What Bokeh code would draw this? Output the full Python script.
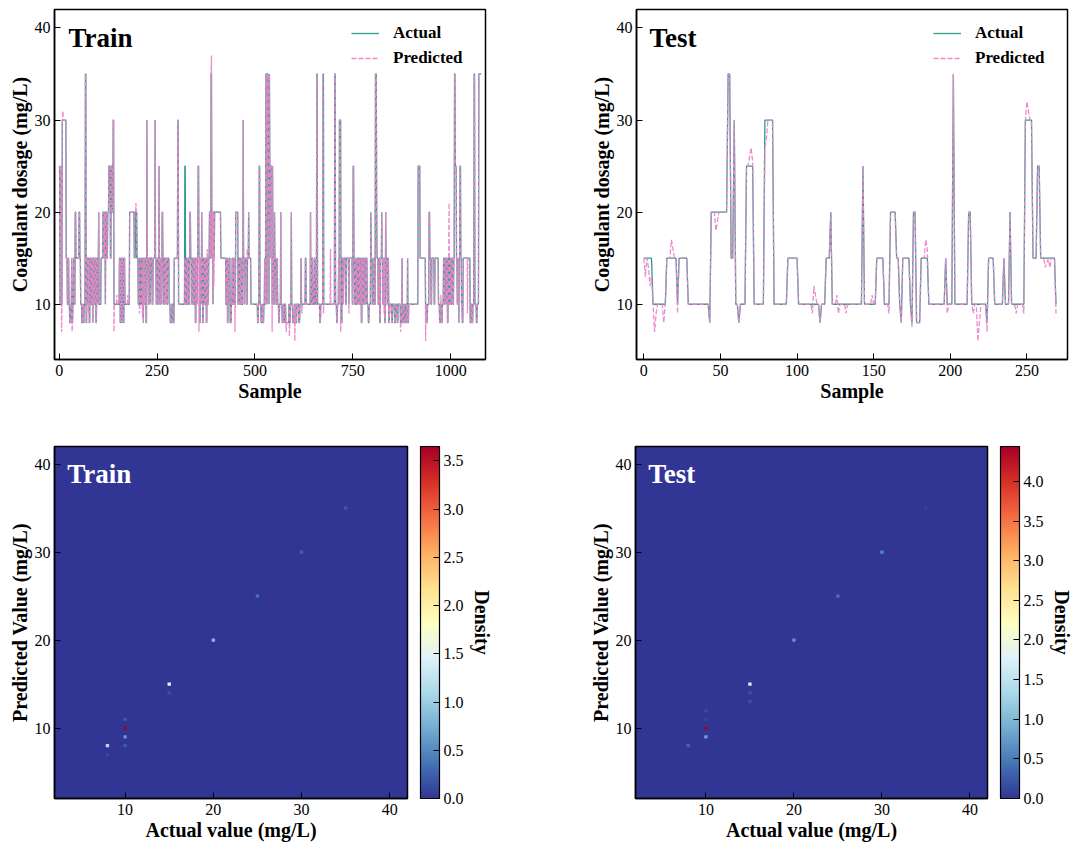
import numpy as np
from bokeh.plotting import figure
from bokeh.models import (Legend, LegendItem, Label, FixedTicker, LinearColorMapper,
                          ColorBar, LinearAxis, PrintfTickFormatter, Range1d, ColumnDataSource)
from bokeh.transform import transform
from bokeh.layouts import column, row
from bokeh.embed import file_html
from bokeh.resources import INLINE

FONT = "Liberation Serif"
TEAL = "#2a9d8f"
PINK = "#ec86c8"

# ---------------- data ----------------
# Train actual coagulant dosage, as runs of (value, number of samples)
train_actual_runs = [
    (25, 2), (10, 2), (15, 1), (25, 1), (10, 2), (30, 10),
    (15, 3), (10, 2), (15, 2), (10, 2), (8, 3),
    (10, 2), (15, 1), (8, 2), (10, 2), (15, 2), (10, 2),
    (20, 2), (15, 2), (15, 6), (20, 2), (15, 2),
    (10, 3), (8, 2), (10, 2), (8, 2), (10, 3), (35, 2),
    (8, 2), (15, 3), (10, 1), (15, 2), (8, 2), (15, 3), (10, 2), (15, 2), (8, 1), (15, 3),
    (10, 2), (15, 2), (8, 2), (15, 2), (10, 1), (15, 2), (20, 1),
    (10, 5), (15, 5), (20, 3), (15, 1), (20, 2), (10, 1), (20, 3), (15, 2), (20, 3),
    (25, 4), (15, 2), (25, 3), (20, 2), (30, 2), (10, 14),
    (15, 2), (8, 2), (15, 2), (8, 1), (15, 3), (8, 2), (15, 2), (10, 12), (20, 12),
    (15, 1), (20, 3), (15, 1), (20, 2), (15, 3), (10, 2), (15, 2), (10, 3), (15, 2),
    (10, 2), (15, 2), (8, 1), (15, 2), (10, 2), (15, 2), (8, 2), (30, 1),
    (15, 3), (10, 2), (15, 3), (10, 1), (15, 4), (10, 2), (15, 5), (30, 1),
    (15, 2), (10, 2), (15, 3), (10, 2), (25, 1), (15, 2), (10, 2), (15, 2), (10, 1), (20, 2),
    (15, 2), (10, 2), (15, 3), (10, 1), (15, 2), (10, 2), (15, 4),
    (10, 3), (8, 4), (10, 3), (8, 3), (15, 9), (30, 2), (10, 16), (25, 2),
    (10, 3), (15, 2), (10, 2), (15, 2), (10, 2), (20, 2),
    (15, 3), (10, 2), (15, 3), (10, 2), (15, 2), (8, 2), (15, 2), (10, 1), (15, 2), (25, 2),
    (15, 2), (8, 2), (15, 2), (10, 1), (20, 1), (15, 2), (8, 2), (15, 3), (10, 2), (15, 2),
    (8, 2), (15, 2), (10, 2), (15, 2), (20, 2), (15, 2), (35, 2),
    (15, 1), (20, 2), (10, 1), (20, 2), (15, 1), (20, 16), (15, 13),
    (10, 2), (15, 2), (8, 2), (15, 1), (10, 2), (15, 2), (8, 3), (10, 2), (15, 2), (10, 3),
    (15, 2), (10, 2), (20, 6), (10, 3), (15, 2), (10, 2), (15, 2), (10, 4), (30, 1),
    (15, 3), (10, 1), (15, 4), (10, 2), (15, 3), (20, 1), (15, 5),
    (10, 17), (8, 2), (10, 2), (25, 2),
    (10, 3), (8, 3), (10, 2), (8, 2), (10, 2), (15, 1), (10, 2),
    (35, 3), (10, 1), (35, 2), (25, 2), (10, 1), (35, 1), (25, 3), (15, 1), (25, 2), (10, 1), (25, 1),
    (15, 2), (10, 2), (20, 1), (15, 3), (10, 3), (15, 1), (10, 3), (8, 2), (10, 3), (20, 1),
    (10, 3), (8, 2), (10, 2), (8, 2), (10, 3), (8, 8), (10, 2), (8, 2), (10, 2), (20, 1),
    (10, 3), (8, 4), (10, 3), (8, 3), (10, 5), (8, 3), (10, 3), (15, 1), (10, 10), (15, 2),
    (10, 11), (20, 1), (10, 3), (15, 2), (10, 4), (15, 2), (10, 4), (35, 2),
    (10, 6), (8, 2), (10, 6), (35, 2), (10, 28), (35, 2),
    (10, 3), (8, 2), (10, 3), (15, 1), (10, 1), (30, 4), (8, 3),
    (15, 3), (10, 1), (15, 5), (10, 2), (15, 6), (10, 1), (15, 8), (10, 2), (25, 2),
    (15, 2), (10, 3), (15, 2), (10, 2),
    (15, 3), (10, 1), (15, 2), (10, 2), (15, 2), (8, 2), (15, 2), (10, 1), (15, 2), (10, 2),
    (15, 3), (10, 1), (15, 2),
    (10, 3), (8, 2), (10, 4), (20, 1), (15, 3), (10, 4), (15, 2), (10, 2), (35, 3),
    (20, 1), (15, 3), (10, 2), (15, 2), (8, 2), (15, 3), (20, 1), (15, 2), (10, 2), (15, 3),
    (8, 2), (20, 1), (15, 3), (10, 2), (15, 2), (8, 2),
    (10, 6), (8, 2), (10, 5), (8, 3), (10, 4), (8, 2), (10, 6),
    (8, 4), (15, 1), (8, 3), (10, 2), (8, 3), (10, 3), (8, 2), (15, 1), (8, 2), (10, 4),
    (10, 20), (25, 5), (15, 14), (10, 2), (8, 3), (10, 4), (20, 2),
    (15, 3), (10, 2), (15, 6), (10, 2), (15, 9),
    (10, 3), (8, 3), (10, 2), (8, 2), (10, 3),
    (15, 2), (10, 2), (15, 3), (10, 1), (15, 2), (8, 2), (15, 3), (10, 2), (15, 2), (10, 2),
    (15, 3), (10, 2), (15, 2), (35, 2),
    (25, 3), (15, 2), (10, 2), (15, 2), (8, 1), (15, 2), (25, 2), (15, 2), (10, 2), (8, 2), (15, 1),
    (15, 17), (8, 3), (10, 2), (8, 2), (10, 3), (35, 2),
    (10, 4), (8, 2), (10, 4), (35, 7),
]
# Train predicted: samples where the prediction departs from the actual value
train_pred_changes = [
    (6, 7), (9, 31), (10, 30.5), (33, 7), (58, 9), (75, 9), (140, 7), (147, 11),
    (175, 11), (196, 21), (198, 15.5), (205, 9), (213, 8.5), (321, 15), (322, 15),
    (357, 7), (378, 16), (389, 37), (395, 12), (449, 7), (480, 16), (519, 9),
    (522, 8.5), (544, 7), (574, 8), (580, 7), (588, 6.5), (602, 6), (614, 8.5),
    (620, 9), (668, 8.5), (675, 9), (693, 16), (719, 7), (740, 9), (770, 11),
    (779, 11), (830, 9), (845, 9), (851, 9), (872, 7), (885, 8), (936, 6),
    (975, 11), (996, 21), (1043, 9), (1061, 34),
]

# Test actual coagulant dosage, as runs of (value, number of samples)
test_actual_runs = [
    (15, 6), (10, 9), (15, 7), (10, 1), (15, 6), (10, 14), (8, 1), (20, 11), (35, 2),
    (15, 2), (30, 1), (10, 2), (8, 1), (10, 4), (25, 5), (10, 7), (30, 6), (10, 9),
    (15, 7), (10, 14), (8, 1), (10, 3), (15, 3), (20, 1), (10, 20), (25, 1), (10, 8),
    (15, 5), (10, 4), (20, 4), (15, 2), (10, 1), (8, 1), (15, 5), (10, 1), (8, 1),
    (20, 2), (8, 3), (15, 5), (10, 11), (15, 1), (10, 4), (35, 1), (10, 9), (20, 2),
    (10, 10), (8, 1), (15, 4), (10, 6), (15, 1), (10, 3), (20, 1), (10, 9), (30, 5),
    (15, 3), (25, 2), (15, 10), (10, 1),
]
test_pred_changes = [
    (1, 13), (3, 14), (4, 12), (5, 13), (7, 7), (8, 9), (13, 8), (18, 17), (19, 16),
    (22, 9), (47, 18), (48, 19), (69, 26), (70, 27), (71, 25.5), (79, 27), (80, 28),
    (110, 9), (111, 12), (112, 11), (126, 11), (127, 9), (132, 9), (149, 11), (160, 9),
    (175, 7.5), (184, 17), (185, 16), (198, 9), (215, 9), (218, 6), (219, 8), (224, 7),
    (243, 9), (248, 9), (250, 32), (251, 31), (262, 14), (263, 14.5), (265, 14), (269, 9),
]

# Density of (actual, predicted) pairs
train_dens_actual = [10, 15, 8, 20, 10, 10, 10, 15, 25, 30, 35, 8]
train_dens_pred = [10, 15, 8, 20, 9, 11, 8, 14, 25, 30, 35, 7]
train_dens_value = [3.65, 1.6, 1.15, 0.85, 0.6, 0.2, 0.2, 0.15, 0.35, 0.25, 0.2, 0.1]
train_dens_max = 3.65

test_dens_actual = [10, 15, 10, 20, 30, 25, 8, 15, 15, 10, 10, 35]
test_dens_pred = [10, 15, 9, 20, 30, 25, 8, 14, 13, 12, 11, 35]
test_dens_value = [4.44, 1.7, 0.8, 0.7, 0.6, 0.45, 0.35, 0.2, 0.2, 0.15, 0.1, 0.12]
test_dens_max = 4.44

train_xticks = [0, 250, 500, 750, 1000]
test_xticks = [0, 50, 100, 150, 200, 250]
dosage_ticks = [10, 20, 30, 40]
train_cbar_ticks = [0.0, 0.5, 1.0, 1.5, 2.0, 2.5, 3.0, 3.5]
test_cbar_ticks = [0.0, 0.5, 1.0, 1.5, 2.0, 2.5, 3.0, 3.5, 4.0]

# RdYlBu reversed anchor colours
RDYLBU_R = ['#313695', '#4575b4', '#74add1', '#abd9e9', '#e0f3f8', '#ffffbf',
            '#fee090', '#fdae61', '#f46d43', '#d73027', '#a50026']


def expand(runs):
    out = []
    for v, n in runs:
        out.extend([v] * n)
    return np.array(out, dtype=float)


def with_changes(actual, changes):
    pred = actual.copy()
    for i, v in changes:
        pred[i] = v
    return pred


def make_palette(anchors, n=256):
    rgb = np.array([[int(c[i:i + 2], 16) for i in (1, 3, 5)] for c in anchors], dtype=float)
    pos = np.linspace(0, 1, len(anchors))
    t = np.linspace(0, 1, n)
    cols = np.stack([np.interp(t, pos, rgb[:, k]) for k in range(3)], axis=1)
    return ["#%02x%02x%02x" % tuple(int(round(v)) for v in c) for c in cols]


PALETTE = make_palette(RDYLBU_R)


def style(p, xlabel, ylabel, xticks, yticks):
    p.xgrid.visible = False
    p.ygrid.visible = False
    p.outline_line_color = "black"
    p.outline_line_width = 1.5
    p.background_fill_color = "white"
    p.border_fill_color = "white"
    p.xaxis.axis_label = xlabel
    p.yaxis.axis_label = ylabel
    p.xaxis.ticker = FixedTicker(ticks=xticks)
    p.yaxis.ticker = FixedTicker(ticks=yticks)
    for ax in (p.xaxis[0], p.yaxis[0]):
        ax.major_tick_in = 6
        ax.major_tick_out = 0
        ax.major_tick_line_color = "black"
        ax.major_tick_line_width = 1
        ax.minor_tick_line_color = None
        ax.axis_line_color = "black"
        ax.axis_line_width = 1.5
        ax.major_label_text_font = FONT
        ax.major_label_text_font_size = "16px"
        ax.major_label_text_color = "black"
        ax.axis_label_text_font = FONT
        ax.axis_label_text_font_size = "20px"
        ax.axis_label_text_font_style = "bold"
        ax.axis_label_text_color = "black"
    p.yaxis.major_label_standoff = 4
    p.yaxis.axis_label_standoff = 1
    p.xaxis.major_label_standoff = 5
    p.xaxis.axis_label_standoff = 1


def series_fig(actual, pred, xr, xticks, name, width, border_right, name_x):
    x = np.arange(len(actual))
    p = figure(width=width, height=405, x_range=Range1d(*xr), y_range=Range1d(4, 42),
               output_backend="svg", toolbar_location=None,
               min_border_left=54, min_border_right=border_right,
               min_border_top=9, min_border_bottom=46)
    r1 = p.line(x, actual, line_color=TEAL, line_width=1.3)
    r2 = p.line(x, pred, line_color=PINK, line_width=1.3, line_dash="5 2", line_alpha=0.95)
    style(p, "Sample", "Coagulant dosage (mg/L)", xticks, dosage_ticks)
    legend = Legend(items=[LegendItem(label="Actual", renderers=[r1]),
                           LegendItem(label="Predicted", renderers=[r2])],
                    location=(297, 291))
    legend.label_text_font = FONT
    legend.label_text_font_size = "17px"
    legend.label_text_font_style = "bold"
    legend.label_text_color = "black"
    legend.border_line_color = None
    legend.background_fill_alpha = 0
    legend.glyph_width = 28
    legend.glyph_height = 20
    legend.label_standoff = 14
    legend.spacing = 5
    legend.padding = 5
    legend.margin = 0
    p.add_layout(legend)
    p.add_layout(Label(x=name_x, y=38.95, text=name, text_font=FONT, text_font_size="27px",
                       text_font_style="bold", text_color="black", text_baseline="middle"))
    return p


def heat_fig(ax_vals, pr_vals, dens, dmax, cticks, name, width, border_right):
    mapper = LinearColorMapper(palette=PALETTE, low=0, high=dmax)
    p = figure(width=width, height=443,
               x_range=Range1d(2, 42), y_range=Range1d(2, 42),
               output_backend="svg", toolbar_location=None,
               min_border_left=54, min_border_right=border_right,
               min_border_top=41, min_border_bottom=50)
    style(p, "Actual value (mg/L)", "Predicted Value (mg/L)", dosage_ticks, dosage_ticks)
    p.background_fill_color = PALETTE[0]
    src = ColumnDataSource(dict(x=ax_vals, y=pr_vals, d=dens))
    p.rect(x="x", y="y", width=0.38, height=0.38, source=src,
           fill_color=transform("d", mapper), line_color=None)
    p.add_layout(Label(x=3.45, y=38.86, text=name, text_font=FONT, text_font_size="27px",
                       text_font_style="bold", text_color="white", text_baseline="middle"))
    # empty spacer between the frame and the colour bar
    gap = LinearAxis(axis_label=" ", ticker=FixedTicker(ticks=[]), axis_line_color=None,
                     major_tick_line_color=None, minor_tick_line_color=None,
                     major_tick_in=0, major_tick_out=0, major_label_text_font_size="0px",
                     axis_label_text_font_size="9px", axis_label_standoff=0)
    p.add_layout(gap, "right")
    cb = ColorBar(color_mapper=mapper, ticker=FixedTicker(ticks=cticks),
                  formatter=PrintfTickFormatter(format="%.1f"),
                  width=19, padding=0, margin=0,
                  major_label_text_font=FONT, major_label_text_font_size="16px",
                  major_label_text_color="black",
                  major_tick_in=6, major_tick_out=0, major_tick_line_color="black",
                  minor_tick_line_color=None,
                  bar_line_color="black", bar_line_width=1.2, label_standoff=4,
                  background_fill_alpha=0, border_line_color=None)
    p.add_layout(cb, "right")
    dax = LinearAxis(axis_label="Density", ticker=FixedTicker(ticks=[]),
                     axis_line_color=None, major_tick_line_color=None,
                     minor_tick_line_color=None, major_tick_in=0, major_tick_out=0,
                     major_label_text_font_size="0px",
                     axis_label_text_font=FONT, axis_label_text_font_size="20px",
                     axis_label_text_font_style="bold", axis_label_text_color="black",
                     axis_label_standoff=4)
    p.add_layout(dax, "right")
    return p


train_actual = expand(train_actual_runs)
train_pred = with_changes(train_actual, train_pred_changes)
test_actual = expand(test_actual_runs)
test_pred = with_changes(test_actual, test_pred_changes)

p1 = series_fig(train_actual, train_pred, (-12, 1089), train_xticks, "Train", 582, 97, 23.8)
p2 = series_fig(test_actual, test_pred, (-4.8, 276.5), test_xticks, "Test", 493, 8, 3.7)
p3 = heat_fig(train_dens_actual, train_dens_pred, train_dens_value, train_dens_max,
              train_cbar_ticks, "Train", 581, 174)
p4 = heat_fig(test_dens_actual, test_dens_pred, test_dens_value, test_dens_max,
              test_cbar_ticks, "Test", 494, 86)

page = column(row(p1, p2), row(p3, p4))
open("out.html", "w").write(file_html(page, INLINE))
